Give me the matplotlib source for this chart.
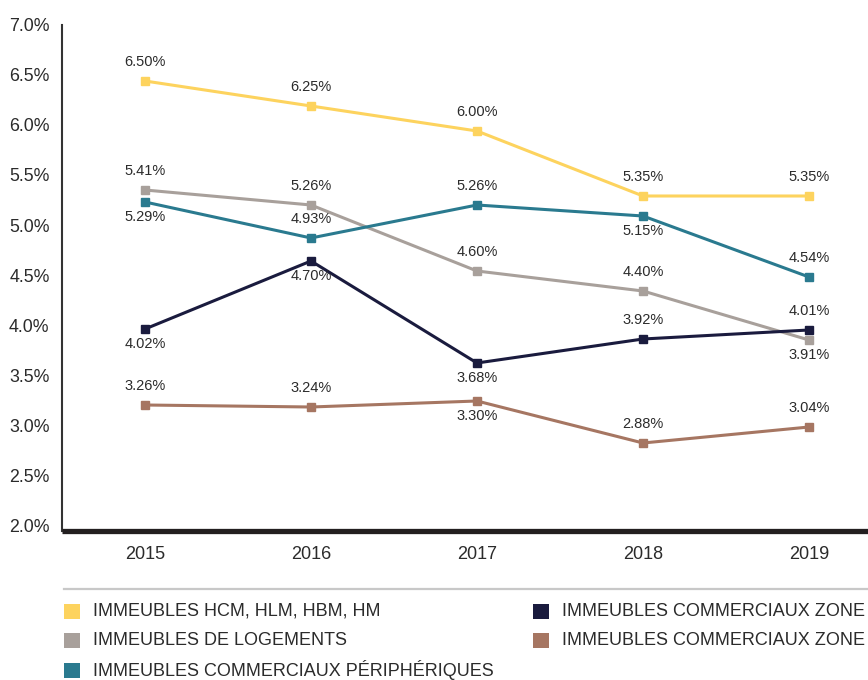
import matplotlib
matplotlib.use("Agg")
import matplotlib.pyplot as plt
from matplotlib import font_manager
from matplotlib.patches import Rectangle
from matplotlib.transforms import ScaledTranslation

# Data
years = ["2015", "2016", "2017", "2018", "2019"]
y_ticks = [2.0, 2.5, 3.0, 3.5, 4.0, 4.5, 5.0, 5.5, 6.0, 6.5, 7.0]

hcm = [6.50, 6.25, 6.00, 5.35, 5.35]
logements = [5.41, 5.26, 4.60, 4.40, 3.91]
peripheriques = [5.29, 4.93, 5.26, 5.15, 4.54]
zone2 = [4.02, 4.70, 3.68, 3.92, 4.01]
zone1 = [3.26, 3.24, 3.30, 2.88, 3.04]

names = ["IMMEUBLES HCM, HLM, HBM, HM",
         "IMMEUBLES DE LOGEMENTS",
         "IMMEUBLES COMMERCIAUX PÉRIPHÉRIQUES",
         "IMMEUBLES COMMERCIAUX ZONE 2",
         "IMMEUBLES COMMERCIAUX ZONE 1"]
series = [hcm, logements, peripheriques, zone2, zone1]
colors = ["#FDD35E", "#A8A09B", "#2A7A8F", "#1A1B3E", "#A67662"]

# where each value label sits: 'a' above the point, 'b' below
label_side = [
    ["a", "a", "a", "a", "a"],
    ["a", "a", "a", "a", "b"],
    ["b", "a", "a", "b", "a"],
    ["b", "b", "b", "a", "a"],
    ["a", "a", "b", "a", "a"],
]

# Fonts: the original uses a narrow face; fall back to a smaller regular one
installed = {f.name for f in font_manager.fontManager.ttflist}
regular = "Liberation Sans" if "Liberation Sans" in installed else "DejaVu Sans"
if "Liberation Sans Narrow" in installed:
    narrow, year_size, legend_size = "Liberation Sans Narrow", 16, 16
else:
    narrow, year_size, legend_size = regular, 13, 13
text_color = "#2b2b2b"

W, H = 868, 680
fig = plt.figure(figsize=(W / 100, H / 100), dpi=100)
fig.patch.set_facecolor("white")

# axes extends past right edge like the original crop
ax = fig.add_axes([62 / W, (H - 531) / H, 830 / W, 506 / H])
ax.set_xlim(-0.5, len(years) - 0.5)
ax.set_ylim(2.0, 7.06)

x = list(range(len(years)))
for vals, col, sides in zip(series, colors, label_side):
    ax.plot(x, vals, color=col, linewidth=2.2, marker="s", markersize=5.5,
            solid_joinstyle="miter", zorder=3)
    for xi, v, s in zip(x, vals, sides):
        dy = 14 if s == "a" else -11
        ax.annotate(f"{v:.2f}%", (xi, v), xytext=(0, dy), textcoords="offset points",
                    ha="center", va="center", fontsize=10.5, family=regular,
                    color=text_color)

# Axes styling
for side in ["top", "right"]:
    ax.spines[side].set_visible(False)
ax.spines["left"].set_linewidth(1.5)
ax.spines["left"].set_color("#333333")
ax.spines["bottom"].set_linewidth(3.8)
ax.spines["bottom"].set_color("#231F20")
ax.spines["bottom"].set_capstyle("butt")

ax.set_yticks(y_ticks)
ax.set_yticklabels([f"{t:.1f}%" for t in y_ticks])
ax.set_xticks(x)
ax.set_xticklabels(years)
ax.tick_params(axis="y", length=0, pad=9, labelsize=12.8, labelcolor=text_color)
ax.tick_params(axis="x", length=0, pad=10.5, labelsize=year_size, labelcolor=text_color)
shift = ScaledTranslation(0, 6 / 100, fig.dpi_scale_trans)
for lab in ax.get_yticklabels():
    lab.set_family(regular)
    lab.set_transform(lab.get_transform() + shift)
for lab in ax.get_xticklabels():
    lab.set_family(narrow)

# Legend (manual layout)
fig.add_artist(plt.Line2D([64 / W, 1.0], [(H - 589) / H] * 2, color="#c8c8c8",
                          linewidth=1.6, transform=fig.transFigure))
col_x = [64, 533]
row_y = [611.5, 640.5, 670]
for i, (name, col) in enumerate(zip(names, colors)):
    c, r = (0, i) if i < 3 else (1, i - 3)
    sx, sy = col_x[c], row_y[r]
    fig.add_artist(Rectangle((sx / W, (H - sy - 7.5) / H), 16 / W, 15 / H,
                             facecolor=col, edgecolor="none", transform=fig.transFigure))
    fig.text((sx + 29) / W, (H - sy) / H, name, ha="left", va="center",
             fontsize=legend_size, family=narrow, color=text_color)

fig.savefig("out.png", dpi=100)
